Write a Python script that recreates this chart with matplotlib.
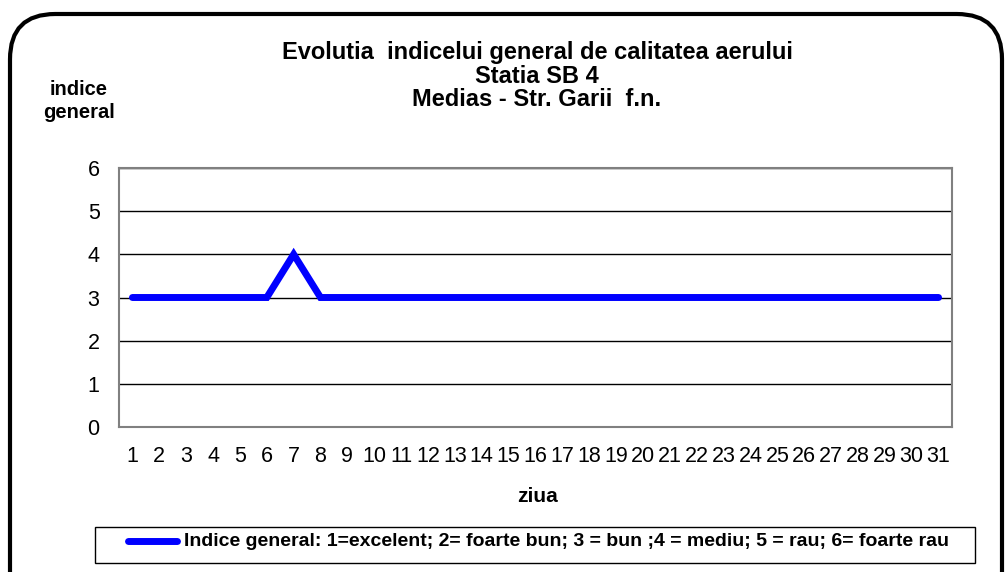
import matplotlib.pyplot as plt
from matplotlib.patches import FancyBboxPatch, Rectangle

plt.rcParams['font.family'] = ['Liberation Sans', 'DejaVu Sans']

# Data
days = list(range(1, 32))
indice = [3, 3, 3, 3, 3, 3, 4, 3, 3, 3, 3, 3, 3, 3, 3, 3, 3, 3, 3, 3,
          3, 3, 3, 3, 3, 3, 3, 3, 3, 3, 3]
title_lines = ['Evolutia  indicelui general de calitatea aerului',
               'Statia SB 4',
               'Medias - Str. Garii  f.n.']
legend_label = ('Indice general: 1=excelent; 2= foarte bun; 3 = bun ;4 = mediu; '
                '5 = rau; 6= foarte rau')

W, H = 1006, 572
fig = plt.figure(figsize=(W / 100, H / 100), dpi=100)

# Outer rounded frame
frame = FancyBboxPatch((10 / W, -0.1), (W - 14) / W, (H - 14) / H + 0.1,
                       boxstyle='round,pad=0,rounding_size=0.045',
                       transform=fig.transFigure, fill=False,
                       edgecolor='black', linewidth=3, mutation_aspect=W / H)
fig.patches.append(frame)

# Axes: plot area roughly from x=119..952, y=168..427
ax = fig.add_axes([119 / W, 1 - 427 / H, (952 - 119) / W, (427 - 168) / H])
ax.plot(days, indice, color='#0000ff', linewidth=5, solid_capstyle='round',
        solid_joinstyle='miter', label=legend_label, zorder=3)
ax.set_xlim(0.5, 31.5)
ax.set_ylim(0, 6)
ax.set_xticks(days)
ax.set_yticks(range(0, 7))
ax.tick_params(length=0, labelsize=15.5)
ax.tick_params(axis='x', pad=14)
ax.tick_params(axis='y', pad=14)
ax.grid(axis='y', color='black', linewidth=1, zorder=1)
for s in ax.spines.values():
    s.set_color('#808080')
    s.set_linewidth(1.5)

# Titles
for i, t in enumerate(title_lines):
    fig.text(537 / W, 1 - (53 + 23.5 * i) / H, t, ha='center', va='center',
             fontsize=17, fontweight='bold')
fig.text(79 / W, 1 - 101 / H, 'indice\ngeneral', ha='center', va='center',
         fontsize=14.5, fontweight='bold', linespacing=1.3)
fig.text(537 / W, 1 - 496 / H, 'ziua', ha='center', va='center',
         fontsize=15, fontweight='bold')

# Legend box
fig.patches.append(Rectangle((95 / W, 1 - 563 / H), (975 - 95) / W, 36 / H,
                             transform=fig.transFigure, fill=False,
                             edgecolor='black', linewidth=1))
fig.lines.append(plt.Line2D([128 / W, 177 / W], [1 - 541 / H, 1 - 541 / H],
                            transform=fig.transFigure, color='#0000ff',
                            linewidth=5, solid_capstyle='round'))
fig.text(184 / W, 1 - 541 / H, legend_label, ha='left', va='center',
         fontsize=14, fontweight='bold')

fig.savefig('out.png', dpi=100)
